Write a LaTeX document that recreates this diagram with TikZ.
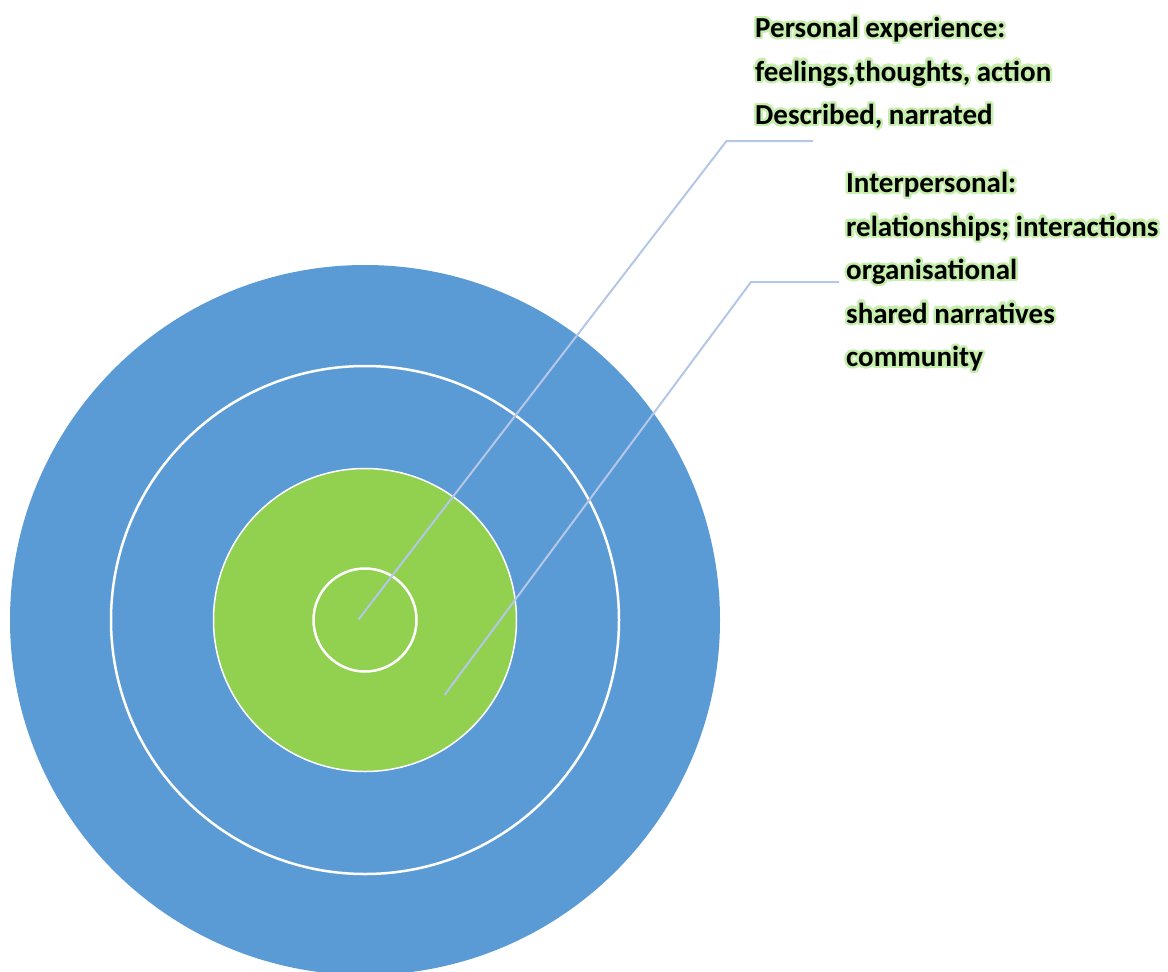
\documentclass[tikz,border=0pt]{standalone}
\usepackage{xcolor}
\usepackage{fontspec}
\setmainfont{Carlito}
\usepackage{contour}
\contourlength{2.4pt}
\contournumber{24}
\usepackage{tikz}
\usetikzlibrary{calc,positioning}

\definecolor{ringblue}{RGB}{91,155,213}
\definecolor{coregreen}{RGB}{146,208,80}
\definecolor{leader}{RGB}{180,199,231}
\definecolor{glow}{RGB}{198,238,172}

\newcommand{\glowline}[1]{\contour{glow}{#1}}

\begin{document}
\begin{tikzpicture}[x=1pt,y=-1pt,
	ring/.style={circle,inner sep=0pt,draw=white},
	label text/.style={anchor=north west,inner sep=0pt,align=left,
		font=\fontsize{29}{43.5}\selectfont\bfseries},
	leader line/.style={draw=leader,line width=2pt}]
	\useasboundingbox (0,0) rectangle (1168,972);
	% rings, outside in
	\node[ring,fill=ringblue,draw=none,minimum size=710pt]	(community)	at (365,620) {};
	\node[ring,line width=2.5pt,minimum size=508pt]		(shared)	at (community.center) {};
	\node[ring,fill=coregreen,line width=1.5pt,minimum size=303pt]	(interpersonal)	at (community.center) {};
	\node[ring,line width=2.5pt,minimum size=103pt]		(personal)	at (community.center) {};
	% labels
	\node[label text]	(personal label)	at (755,17)
		{\glowline{Personal experience:}\\\glowline{feelings,thoughts, action}\\\glowline{Described, narrated}};
	\node[label text]	(inter label)	at (846,172)
		{\glowline{Interpersonal:}\\\glowline{relationships; interactions}\\\glowline{organisational}\\\glowline{shared narratives}\\\glowline{community}};
	% leader lines
	\coordinate (personal tip)	at ($(community.center)+(-6.5,-0.5)$);
	\coordinate (inter tip)	at ($(community.center)+(79.5,75)$);
	\draw[leader line]	(personal tip) -- (726.5,141) -- (813,141);
	\draw[leader line]	(inter tip) -- (751,282) -- (839,282);
\end{tikzpicture}
\end{document}
